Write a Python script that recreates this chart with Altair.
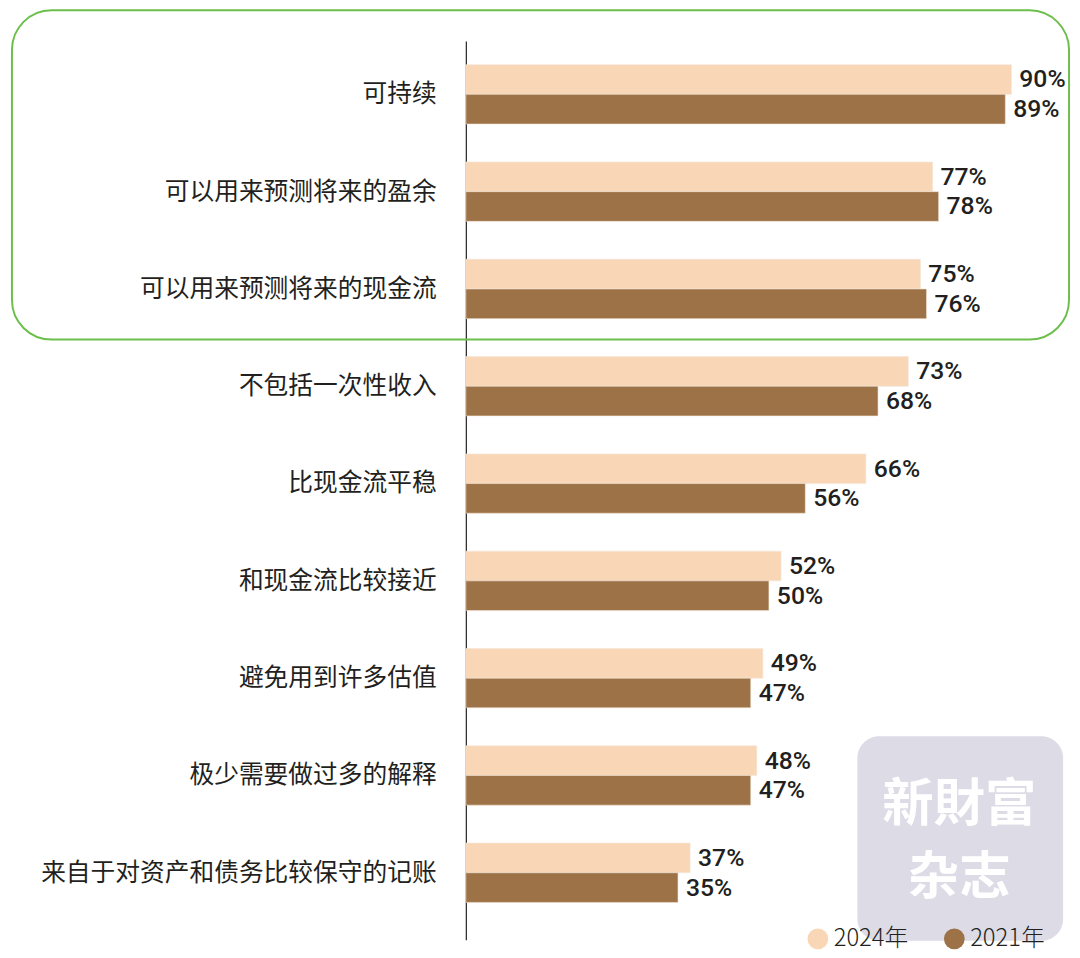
import altair as alt
import pandas as pd

categories = ["可持续", "可以用来预测将来的盈余", "可以用来预测将来的现金流", "不包括一次性收入",
              "比现金流平稳", "和现金流比较接近", "避免用到许多估值", "极少需要做过多的解释",
              "来自于对资产和债务比较保守的记账"]
years = ["2024年", "2021年"]
v2024 = [90, 77, 75, 73, 66, 52, 49, 48, 37]
v2021 = [89, 78, 76, 68, 56, 50, 47, 47, 35]
colors = ["#F9D7B6", "#9D7246"]

rows = []
for c, a, b in zip(categories, v2024, v2021):
    rows.append({"cat": c, "year": years[0], "value": a, "label": f"{a}%"})
    rows.append({"cat": c, "year": years[1], "value": b, "label": f"{b}%"})
df = pd.DataFrame(rows)

W, H = 613, 909

y_enc = alt.Y("cat:N", sort=categories,
              scale=alt.Scale(paddingInner=0.39, paddingOuter=0.314, align=0.388),
              axis=alt.Axis(title=None, ticks=False, labelFontSize=25, labelColor="#231f20",
                            labelFont="Noto Sans CJK SC", labelPadding=30, labelLimit=0,
                            domainColor="#231f20", domainWidth=1.2, grid=False))
yoff = alt.YOffset("year:N", sort=years, scale=alt.Scale(domain=years, paddingInner=0, paddingOuter=0))
x_enc = alt.X("value:Q", scale=alt.Scale(domain=[0, 100], nice=False), axis=None)

bars = alt.Chart(df).mark_bar(stroke="#f3e6d8", strokeWidth=0.6).encode(
    x=x_enc, y=y_enc, yOffset=yoff,
    color=alt.Color("year:N", sort=years,
                    scale=alt.Scale(domain=years, range=colors),
                    legend=alt.Legend(title=None, orient="none", direction="horizontal",
                                      legendX=344, legendY=896, padding=0,
                                      symbolType="circle", symbolSize=441, symbolStrokeWidth=0,
                                      symbolOpacity=1, labelFont="Noto Sans CJK SC",
                                      labelFontWeight=300, labelFontSize=24, labelColor="#231f20",
                                      labelOffset=4, columnPadding=34)),
)

labels = alt.Chart(df).mark_text(align="left", baseline="middle", dx=8, fontSize=25,
                                 font="Roboto", fontWeight=500,
                                 color="#231f20").encode(
    x=x_enc, y=alt.Y("cat:N", sort=categories), yOffset=yoff, text="label:N")

deco = alt.Data(values=[{"k": 1}])

box = alt.Chart(deco).mark_rect(filled=False, stroke="#6DBF4B", strokeWidth=2,
                                cornerRadius=40).encode(
    x=alt.value(-459), x2=alt.value(610), y=alt.value(-31), y2=alt.value(302))

wm = alt.Chart(deco).mark_rect(fill="#DCDBE6", cornerRadius=22).encode(
    x=alt.value(396), x2=alt.value(604), y=alt.value(703), y2=alt.value(910))

wm_style = dict(fontSize=52, fontWeight="bold", font="Noto Sans CJK TC",
                color="#ffffff", baseline="middle", align="center")
wm1 = alt.Chart(deco).mark_text(**wm_style).encode(
    x=alt.value(499), y=alt.value(773), text=alt.value("新財富"))
wm2 = alt.Chart(deco).mark_text(**wm_style).encode(
    x=alt.value(499), y=alt.value(847), text=alt.value("杂志"))

chart = alt.layer(bars, labels, box, wm, wm1, wm2).properties(
    width=W, height=H,
    autosize=alt.AutoSizeParams(type="none"),
    padding={"left": 463, "top": 28, "right": 0, "bottom": 10},
).configure_view(stroke=None)

chart.save("out.html", embed_options={"renderer": "svg", "actions": False})
